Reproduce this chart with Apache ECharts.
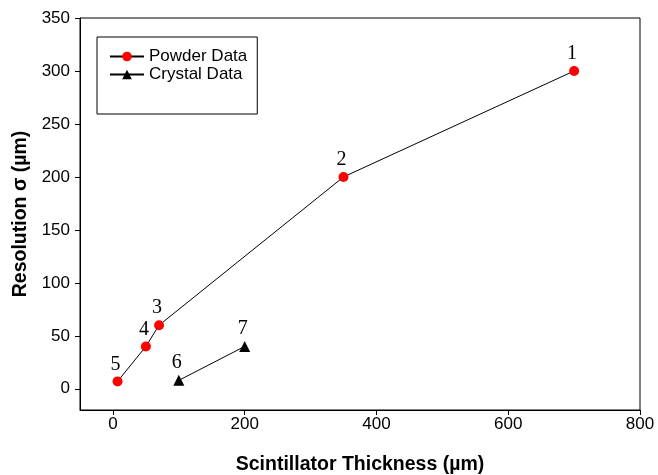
<!DOCTYPE html>
<html lang="en">
<head>
    <meta charset="UTF-8">
    <title>Resolution vs Scintillator Thickness</title>
    <script type="text/javascript" src="https://cdn.jsdelivr.net/npm/echarts@6.0.0/dist/echarts.min.js"></script>
    <style type="text/css">
        html, body {
            margin: 0;
            padding: 0;
            height: 100%;
            width: 100%;
            background: #fff;
        }
        #echarts {
            height: 475px;
            width: 658px;
        }
    </style>
</head>
<body>

<div id="echarts"></div>

<script type="text/javascript">
    // powder scintillators: thickness (um), resolution (um), point label
    var powderX = [700, 350, 70, 50, 7];
    var powderY = [300, 200, 60, 40, 7];
    var powderLabels = ['1', '2', '3', '4', '5'];

    // crystal scintillators
    var crystalX = [100, 200];
    var crystalY = [8, 40];
    var crystalLabels = ['6', '7'];

    var xTicks = [0, 200, 400, 600, 800];
    var yTicks = [0, 50, 100, 150, 200, 250, 300, 350];

    var myChart = echarts.init(document.getElementById("echarts"));

    function pairs(xs, ys) {
        return xs.map(function (x, i) { return [x, ys[i]]; });
    }

    var pointLabel = function (names) {
        return {
            show: true,
            position: 'top',
            distance: 2,
            offset: [-2, 0],
            fontFamily: 'Liberation Serif',
            fontSize: 20,
            color: '#000',
            formatter: function (p) { return names[p.dataIndex]; }
        };
    };

    var axisText = {fontFamily: 'Liberation Sans', fontSize: 17, color: '#000'};
    var titleText = {fontFamily: 'Liberation Sans', fontSize: 19.5, fontWeight: 'bold', color: '#000'};

    option = {
        animation: false,
        grid: {
            left: 80, top: 18, right: 18, bottom: 65,
            outerBoundsMode: 'none',
            show: true, borderColor: '#000', borderWidth: 1
        },
        legend: {
            left: 97, top: 37,
            orient: 'vertical',
            padding: [11, 10, 31, 12],
            itemGap: 1,
            itemWidth: 34,
            itemHeight: 12,
            itemTextGap: 11,
            borderColor: '#000',
            borderWidth: 1,
            textStyle: {fontFamily: 'Liberation Sans', fontSize: 17, color: '#000'},
            data: ['Powder Data', 'Crystal Data']
        },
        xAxis: {
            type: 'value',
            min: -50, max: 800,
            name: 'Scintillator Thickness (\u00b5m)',
            nameLocation: 'middle',
            nameGap: 45,
            nameTextStyle: titleText,
            axisLine: {onZero: false, lineStyle: {color: '#000'}},
            axisTick: {show: true, length: 5, customValues: xTicks, lineStyle: {color: '#000'}},
            axisLabel: Object.assign({margin: 6, customValues: xTicks}, axisText),
            splitLine: {show: false}
        },
        yAxis: {
            type: 'value',
            min: -20, max: 350,
            name: 'Resolution \u03c3 (\u00b5m)',
            nameLocation: 'middle',
            nameGap: 46,
            nameTextStyle: titleText,
            axisLine: {onZero: false, lineStyle: {color: '#000'}},
            axisTick: {show: true, length: 5, customValues: yTicks, lineStyle: {color: '#000'}},
            axisLabel: Object.assign({margin: 10, customValues: yTicks}, axisText),
            splitLine: {show: false}
        },
        series: [
            {
                name: 'Powder Data',
                type: 'line',
                data: pairs(powderX, powderY),
                symbol: 'circle',
                symbolSize: 10,
                itemStyle: {color: '#ff0000'},
                lineStyle: {color: '#000', width: 1},
                label: pointLabel(powderLabels)
            },
            {
                name: 'Crystal Data',
                type: 'line',
                data: pairs(crystalX, crystalY),
                symbol: 'triangle',
                symbolSize: 11,
                itemStyle: {color: '#000'},
                lineStyle: {color: '#000', width: 1},
                label: pointLabel(crystalLabels)
            }
        ]
    };
    myChart.setOption(option);
</script>

</body>
</html>
